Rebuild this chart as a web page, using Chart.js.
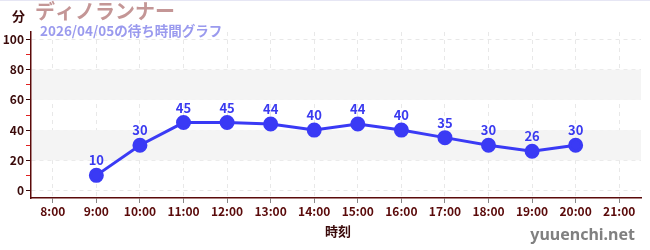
<!DOCTYPE html>
<html><head><meta charset="utf-8">
<script src="https://cdn.jsdelivr.net/npm/chart.js@4.4.1/dist/chart.umd.min.js"></script>
<style>html,body{margin:0;padding:0;background:#fff;}#wrap{width:650px;height:250px;position:relative;}</style>
</head><body><div id="wrap"><canvas id="c" width="650" height="250"></canvas></div>
<script>
const categories = ['8:00','9:00','10:00','11:00','12:00','13:00','14:00','15:00','16:00','17:00','18:00','19:00','20:00','21:00'];
const waitTimes = [null,10,30,45,45,44,40,44,40,35,30,26,30,null];
const yTicks = [0,10,20,30,40,50,60,70,80,90,100];
const bands = [[20,40],[60,80]];
const titleText = 'ディノランナー';
const subtitleText = '2026/04/05の待ち時間グラフ';
const unitText = '分';
const xTitle = '時刻';
const watermark = 'yuuenchi.net';
const FONT = '"Noto Sans CJK JP","Noto Sans",sans-serif';

const deco = {
  id:'deco',
  beforeDatasetsDraw(chart){
    const {ctx, chartArea:a, scales:{y}} = chart;
    ctx.save();
    ctx.fillStyle = '#f4f4f4';
    bands.forEach(b=>{
      const t=y.getPixelForValue(b[1]), btm=y.getPixelForValue(b[0]);
      ctx.fillRect(a.left+1,t,a.right-a.left-1,btm-t);
    });
    ctx.restore();
  },
  afterDatasetsDraw(chart){
    const {ctx} = chart;
    const meta = chart.getDatasetMeta(0);
    ctx.save();
    ctx.font = 'bold 13px '+FONT;
    ctx.fillStyle = '#3a3af0';
    ctx.textAlign='center'; ctx.textBaseline='alphabetic';
    meta.data.forEach((p,i)=>{
      const v = waitTimes[i];
      if(v==null) return;
      ctx.fillText(String(v), p.x, p.y-10);
    });
    ctx.restore();
  },
  afterDraw(chart){
    const {ctx} = chart;
    ctx.save();
    ctx.fillStyle='#e6e6f4'; ctx.fillRect(0,0,650,1);
    ctx.textBaseline='alphabetic'; ctx.textAlign='left';
    ctx.font='bold 13px '+FONT; ctx.fillStyle='#3a0a0a';
    ctx.fillText(unitText, 12, 21);
    ctx.font='bold 20px '+FONT; ctx.fillStyle='#c49696';
    ctx.fillText(titleText, 35, 19);
    ctx.font='bold 13.5px '+FONT; ctx.fillStyle='#9a9aee';
    ctx.fillText(subtitleText, 40, 36);
    ctx.font='bold 13px '+FONT; ctx.fillStyle='#3a0a0a'; ctx.textAlign='center';
    ctx.fillText(xTitle, 338, 236);
    ctx.font='bold 16px "Noto Sans",sans-serif'; ctx.fillStyle='#808080'; ctx.textAlign='right';
    ctx.fillText(watermark, 635, 240);
    ctx.restore();
  }
};

new Chart(document.getElementById('c'), {
  type:'line',
  data:{labels:categories, datasets:[{
    data:waitTimes, borderColor:'#3a3af5', backgroundColor:'#3a3af5',
    borderWidth:3, pointRadius:6, pointHoverRadius:6, tension:0, spanGaps:false
  }]},
  options:{
    responsive:false, animation:false, devicePixelRatio:1,
    layout:{padding:{top:32,right:9,left:0,bottom:0}},
    plugins:{legend:{display:false}, tooltip:{enabled:false}},
    scales:{
      x:{
        offset:true,
        grid:{offset:false, color:'#e8e8e8', tickColor:'#888', tickLength:5, drawOnChartArea:true, tickBorderDash:[]},
        border:{color:'#5a0a0a', width:1.5, dash:[4,4]},
        ticks:{color:'#5a0a0a', font:{family:FONT, size:12, weight:'bold'}, padding:1, maxRotation:0, autoSkip:false},
        afterFit(s){ s.height = 52; }
      },
      y:{
        min:-5, max:105,
        afterBuildTicks(s){ s.ticks = yTicks.map(v=>({value:v})); },
        grid:{color:(c)=> (c.tick && c.tick.value%20===0) ? '#e8e8e8' : 'rgba(0,0,0,0)',
              tickColor:(c)=> (c.tick && c.tick.value%20===0) ? '#3a0a0a' : '#e02020',
              tickLength:5, tickBorderDash:[]},
        border:{color:'#5a0a0a', width:1.5, dash:[4,4]},
        ticks:{autoSkip:false, color:'#3a0a0a', padding:2,
               font:{family:FONT, size:12, weight:'bold'},
               callback:(v)=> v%20===0 ? String(v) : ''},
        afterFit(s){ s.width = 31; }
      }
    }
  },
  plugins:[deco]
});
</script></body></html>
